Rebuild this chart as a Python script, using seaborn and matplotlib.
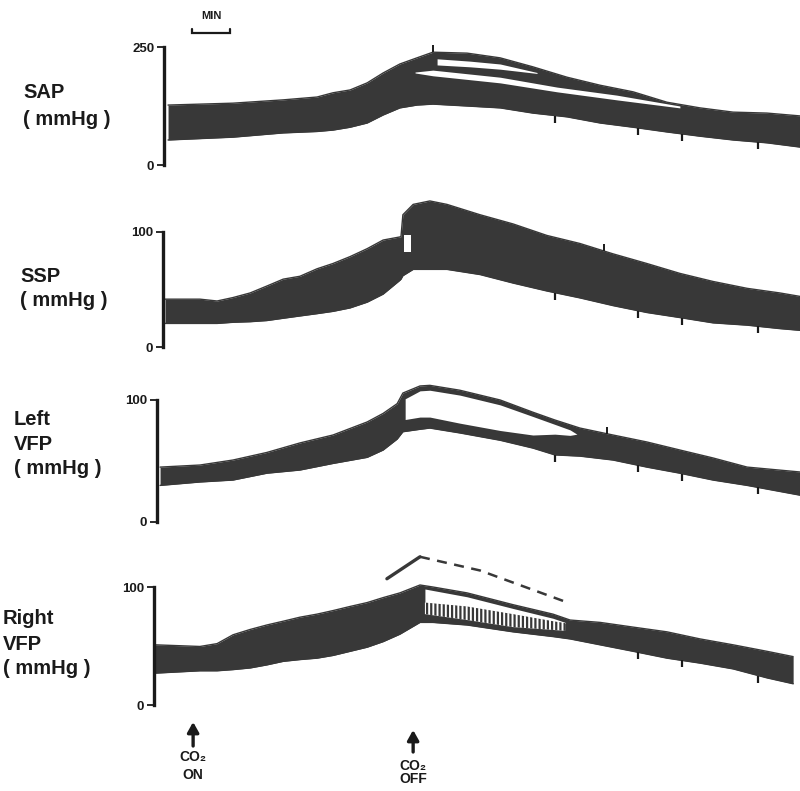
import numpy as np
import matplotlib
matplotlib.use("Agg")
import matplotlib.pyplot as plt
import matplotlib.transforms as mtransforms
import seaborn as sns

sns.set_theme(style="white")
plt.rcParams["font.family"] = ["Liberation Sans", "DejaVu Sans"]
plt.rcParams["hatch.linewidth"] = 1.6

# ---------------------------------------------------------------- data
# time in minutes; pressures in mmHg (upper / lower envelope of the pulse trace)

# systemic arterial pressure
sap_t = [0.08, 1.79, 3.11, 4.00, 4.42, 4.87, 5.32, 5.74, 6.18, 6.63, 7.05, 7.95,
         8.82, 9.68, 10.58, 11.45, 12.32, 13.21, 14.08, 14.95, 15.84, 16.71]
sap_hi = [127, 131, 138, 144, 153, 159, 174, 195, 214, 227, 239, 237,
          227, 208, 186, 169, 155, 133, 121, 112, 110, 104]
sap_lo = [53, 59, 68, 71, 74, 80, 89, 106, 121, 127, 129, 125,
          121, 110, 102, 89, 80, 70, 61, 53, 47, 38]
# separated systolic tracings after CO2 off
sap_split1_t = [7.16, 8.03, 8.82, 9.79]
sap_split1_hi = [225, 220, 214, 196]
sap_split1_lo = [212, 208, 203, 194]
sap_split2_t = [6.58, 7.05, 8.82, 10.32, 11.89, 13.55]
sap_split2_hi = [197, 201, 186, 165, 148, 125]
sap_split2_lo = [195, 189, 174, 155, 138, 121]

# systemic sinus pressure
ssp_t = [0.00, 0.92, 1.37, 1.79, 2.24, 2.68, 3.11, 3.55, 4.00, 4.42,
         4.87, 5.32, 5.74, 6.18, 6.21, 6.26, 6.53, 6.97, 7.42, 8.29,
         9.16, 10.05, 10.92, 11.79, 12.68, 13.55, 14.42, 15.32, 16.18, 16.71]
ssp_hi = [41.6, 41.6, 40, 43, 47, 53, 59, 61.5, 68, 72.6,
          78.6, 85.5, 93, 95.7, 96, 115, 124, 127, 124, 115,
          107, 97, 90, 81, 72.6, 64, 57, 51, 47, 44]
ssp_lo = [20.5, 20.5, 20.5, 21.5, 22, 23, 25, 27, 29, 31,
          34, 39, 46, 58, 59, 62, 67.5, 67.5, 67.5, 63,
          55.6, 48.7, 42.7, 36, 30, 25.6, 21, 19, 16, 14.5]
ssp_notch_t = [6.29, 6.47]
ssp_notch_hi = [97, 97]
ssp_notch_lo = [83, 83]

# left ventricular filling pressure
lvfp_t = [-0.13, 0.92, 1.79, 2.68, 3.55, 4.42, 5.32, 5.74, 6.11, 6.26,
          6.71, 6.97, 7.76, 8.82, 9.68, 10.26, 10.92, 11.79, 12.68, 13.55,
          14.42, 15.32, 16.71]
lvfp_hi = [45, 46.7, 50.8, 57, 64.8, 71.3, 82, 89, 97, 105.7,
           111.5, 112, 108, 100, 90, 83.6, 77, 71.3, 65.6, 59,
           52.5, 45, 41]
lvfp_lo = [30, 32.8, 34.4, 40, 42.6, 48, 53, 59, 68, 74,
           76, 77, 73, 67, 60.6, 55, 54, 50.8, 45, 40,
           34.4, 30, 22]
lvfp_gap_t = [6.32, 6.71, 6.97, 7.76, 8.82, 9.68, 10.26, 10.66, 10.84]
lvfp_gap_hi = [101, 107.5, 108, 104, 96, 86.5, 80, 75.5, 72]
lvfp_gap_lo = [84, 86, 86, 81, 75, 71.3, 72, 71, 72]

# right ventricular filling pressure
rvfp_t = [-0.26, 0.92, 1.37, 1.79, 2.24, 2.68, 3.11, 3.55, 4.00, 4.42,
          4.87, 5.32, 5.74, 6.18, 6.71, 7.05, 7.95, 9.16, 10.21, 10.66,
          11.45, 12.32, 13.21, 14.08, 14.95, 15.84, 16.53]
rvfp_hi = [51, 49.6, 52, 59.5, 64, 67.8, 71, 74.4, 77, 80,
           83.5, 86.8, 91, 95, 101.7, 100, 95, 85, 77, 72,
           70, 66, 62, 56, 51, 45.5, 41]
rvfp_lo = [27, 29, 29, 30, 31.4, 34, 37, 38.5, 39.7, 42,
           45.5, 49, 53.7, 60, 70, 70, 67.8, 62, 58, 56,
           51, 45.5, 39.7, 35.5, 30.6, 23, 18]
rvfp_gap_t = [6.84, 7.95, 9.16, 10.21, 10.53]
rvfp_gap_hi = [98.3, 91.7, 81.8, 73.5, 70]
rvfp_gap_lo = [86.8, 83.5, 77, 71, 69.4]
rvfp_speck_lo = [77, 72, 66, 63.6, 62.8]
# sparse systolic peaks above the band
rvfp_peak_t = [5.84, 6.71]
rvfp_peak_v = [107, 125.6]
rvfp_peak_dash_t = [6.71, 8.29, 10.58]
rvfp_peak_dash_v = [125.6, 114, 87]

# event marks on the recorder (minutes)
event_low = [10.26, 12.45, 13.61, 15.61]
event_high = {"SAP": [7.05], "SSP": [11.55], "LVFP": [11.63], "RVFP": []}

co2_on, co2_off = 0.74, 6.53
scale_bar = [0.71, 1.71]   # one minute

# ---------------------------------------------------------------- figure
W, H = 800, 791
PX_PER_MIN = 38.0
T_REF = 165.0
T_END = (800 - T_REF) / PX_PER_MIN
INK = "#383838"
LINE = "#1a1a1a"

fig = plt.figure(figsize=(W / 100, H / 100), dpi=100)

panels = [
    dict(key="SAP", lines=["SAP", "( mmHg )"], lx=23, lbase=[98, 125],
         xa=164, ytop=47, yzero=165, ymax=250, t=sap_t, hi=sap_hi, lo=sap_lo),
    dict(key="SSP", lines=["SSP", "( mmHg )"], lx=20, lbase=[282, 306],
         xa=163, ytop=232, yzero=347, ymax=100, t=ssp_t, hi=ssp_hi, lo=ssp_lo),
    dict(key="LVFP", lines=["Left", "VFP", "( mmHg )"], lx=14, lbase=[425, 450, 474],
         xa=157, ytop=400, yzero=522, ymax=100, t=lvfp_t, hi=lvfp_hi, lo=lvfp_lo),
    dict(key="RVFP", lines=["Right", "VFP", "( mmHg )"], lx=3, lbase=[624, 650, 674],
         xa=154, ytop=587, yzero=705, ymax=100, t=rvfp_t, hi=rvfp_hi, lo=rvfp_lo),
]


def fy(y_px):
    return 1 - y_px / H


def band(ax, t, lo, hi, color, z):
    ax.fill_between(t, lo, hi, color=color, lw=0, clip_on=False, zorder=z)


axes = {}
for p in panels:
    ax = fig.add_axes([p["xa"] / W, fy(p["yzero"]), (800 - p["xa"]) / W,
                       (p["yzero"] - p["ytop"]) / H])
    axes[p["key"]] = ax
    ax.patch.set_visible(False)
    ax.set_xlim((p["xa"] - T_REF) / PX_PER_MIN, T_END)
    ax.set_ylim(0, p["ymax"])

    band(ax, p["t"], p["lo"], p["hi"], INK, 2)
    for edge in (p["hi"], p["lo"]):
        sns.lineplot(x=p["t"], y=edge, ax=ax, color=INK, lw=1.0, sort=False,
                     estimator=None, clip_on=False, zorder=2)

    # recorder event marks
    unit = p["ymax"] / (p["yzero"] - p["ytop"])   # mmHg per pixel
    for te in event_low:
        if p["key"] == "RVFP" and te < 11:
            continue
        yb = np.interp(te, p["t"], p["lo"])
        ax.vlines(te, yb - 7 * unit, yb, color=LINE, lw=1.6, clip_on=False, zorder=4)
    for te in event_high[p["key"]]:
        yt = np.interp(te, p["t"], p["hi"])
        ax.vlines(te, yt, yt + 7 * unit, color=LINE, lw=1.4, clip_on=False, zorder=4)

    for s in ("top", "right", "bottom"):
        ax.spines[s].set_visible(False)
    ax.spines["left"].set_linewidth(2.4)
    ax.spines["left"].set_color(LINE)
    ax.set_xticks([])
    ax.set_yticks([0, p["ymax"]])
    ax.set_yticklabels(["0", str(p["ymax"])], fontsize=9.5, fontweight="bold",
                       color=LINE)
    ax.tick_params(axis="y", left=True, direction="out", length=5, width=1.3,
                   pad=2, colors=LINE)
    ax.set_xlabel("")
    ax.set_ylabel("")
    ax.grid(False)

    for s, b in zip(p["lines"], p["lbase"]):
        fig.text(p["lx"] / W, fy(b), s, ha="left", va="baseline", fontsize=14.5,
                 fontweight="bold", color=LINE)

# split tracings and gaps after CO2 off
ax = axes["SAP"]
band(ax, sap_split1_t, sap_split1_lo, sap_split1_hi, "white", 3)
band(ax, sap_split2_t, sap_split2_lo, sap_split2_hi, "white", 3)

ax = axes["SSP"]
band(ax, ssp_notch_t, ssp_notch_lo, ssp_notch_hi, "white", 3)

ax = axes["LVFP"]
band(ax, lvfp_gap_t, lvfp_gap_lo, lvfp_gap_hi, "white", 3)

ax = axes["RVFP"]
band(ax, rvfp_gap_t, rvfp_gap_lo, rvfp_gap_hi, "white", 3)
ax.fill_between(rvfp_gap_t, rvfp_speck_lo, rvfp_gap_lo, facecolor="white",
                edgecolor=INK, hatch="||||", lw=0, clip_on=False, zorder=3)
sns.lineplot(x=rvfp_peak_t, y=rvfp_peak_v, ax=ax, color=INK, lw=2.4, sort=False,
             estimator=None, clip_on=False, zorder=4)
sns.lineplot(x=rvfp_peak_dash_t, y=rvfp_peak_dash_v, ax=ax, color=INK, lw=1.8,
             linestyle=(0, (4, 3)), sort=False, estimator=None, clip_on=False, zorder=4)

# CO2 markers under the bottom trace
trans = mtransforms.blended_transform_factory(ax.transData, fig.transFigure)
for t_ev, y_head, y_tail, y_co2, y_word, word in [
        (co2_on, 722, 746, 757, 775, "ON"),
        (co2_off, 730, 752, 766, 779, "OFF")]:
    ax.annotate("", xy=(t_ev, fy(y_head)), xytext=(t_ev, fy(y_tail)),
                xycoords=trans, textcoords=trans, annotation_clip=False,
                arrowprops=dict(arrowstyle="-|>,head_length=0.5,head_width=0.28",
                                lw=2.4, color=LINE, shrinkA=0, shrinkB=0))
    ax.text(t_ev, fy(y_co2), "CO\u2082", transform=trans, ha="center", va="center",
            fontsize=10, fontweight="bold", color=LINE)
    ax.text(t_ev, fy(y_word), word, transform=trans, ha="center", va="center",
            fontsize=10, fontweight="bold", color=LINE)

# one-minute scale bar
ax = axes["SAP"]
trans = mtransforms.blended_transform_factory(ax.transData, fig.transFigure)
ax.plot([scale_bar[0], scale_bar[0], scale_bar[1], scale_bar[1]],
        [fy(29), fy(33), fy(33), fy(29)], transform=trans, color=LINE, lw=1.6,
        clip_on=False, solid_joinstyle="miter")
ax.text(np.mean(scale_bar), fy(16), "MIN", transform=trans, ha="center",
        va="center", fontsize=8, fontweight="bold", color=LINE)

fig.savefig("out.png", dpi=100, facecolor="white")
